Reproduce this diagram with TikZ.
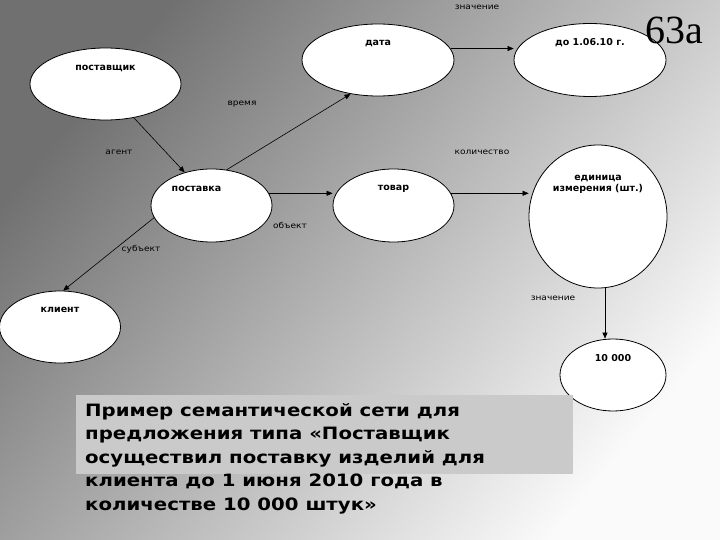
\documentclass[tikz,border=0pt]{standalone}
\usepackage{fontspec}
\setmainfont{DejaVu Sans}
\newfontfamily\pagefont{Liberation Serif}
\newfontfamily\widefont[FakeStretch=1.13]{DejaVu Sans}
\newfontfamily\capfont[FakeStretch=1.16]{DejaVu Sans Bold}
\usetikzlibrary{arrows.meta,shapes.geometric}
\definecolor{bgdark}{HTML}{707070}
\definecolor{bglight}{HTML}{FAFAFA}
\definecolor{capfill}{HTML}{CACACA}
\tikzset{
  concept/.style={ellipse, draw=black, fill=white, line width=0.8pt, inner sep=0pt},
  ctext/.style={font=\fontsize{9.5}{11.5}\selectfont\bfseries, align=center},
  ar/.style={-{Triangle[length=6pt,width=5pt]}, line width=0.6pt},
  lbl/.style={font=\widefont\fontsize{8}{9}\selectfont}
}

\begin{document}
\begin{tikzpicture}[x=1pt,y=-1pt]
  \useasboundingbox (0,0) rectangle (720,540);
  \shade[left color=bgdark, right color=bglight, shading angle=50] (0,0) rectangle (720,540);

  % concepts
  \node[concept, minimum width=151pt, minimum height=72pt,
        label={[ctext,yshift=16pt]center:поставщик}] (supplier) at (105.5,84) {};
  \node[concept, minimum width=152pt, minimum height=72pt,
        label={[ctext,yshift=17pt]center:дата}] (date) at (378,60) {};
  \node[concept, minimum width=152pt, minimum height=73pt,
        label={[ctext,yshift=17pt]center:до 1.06.10 г.}] (due) at (590,60) {};
  \node[concept, minimum width=121pt, minimum height=73pt,
        label={[ctext,yshift=17pt,xshift=-15pt]center:поставка}] (delivery) at (211.5,205.5) {};
  \node[concept, minimum width=121pt, minimum height=73pt,
        label={[ctext,yshift=17pt]center:товар}] (goods) at (393.5,205.5) {};
  \node[concept, minimum width=138pt, minimum height=143pt,
        label={[ctext,yshift=32pt]center:единица\\измерения (шт.)}] (unit) at (598,216.5) {};
  \node[concept, minimum width=121pt, minimum height=72pt,
        label={[ctext,yshift=17pt]center:клиент}] (client) at (60,327) {};
  \node[concept, minimum width=106pt, minimum height=72pt,
        label={[ctext,yshift=17pt]center:10 000}] (amount) at (613,375) {};

  % relations
  \draw[ar] (supplier.-50) -- (delivery.129);
  \draw[ar] (delivery.67) -- (date.231);
  \draw[ar] (delivery.12) -- (delivery.12 -| goods.west);
  \draw[ar] (delivery.192) -- (client.85);
  \draw[ar] (date.9) -- (date.9 -| due.west);
  \draw[ar] (goods.12) -- (goods.12 -| unit.west);
  \draw[ar] ([xshift=7pt]unit.south) -- ([xshift=7pt]unit.south |- amount.north);

  \node[lbl] (l-value1) at (477,7) {значение};
  \node[lbl] (l-time) at (242,104) {время};
  \node[lbl] (l-agent) at (119,152) {агент};
  \node[lbl] (l-qty) at (482,152) {количество};
  \node[lbl] (l-object) at (290,225) {объект};
  \node[lbl] (l-subject) at (141,249) {субъект};
  \node[lbl] (l-value2) at (553,298) {значение};

  \node[font=\pagefont\fontsize{40}{40}\selectfont] (slide) at (674,30) {63а};

  % caption
  \node[fill=capfill, minimum width=497pt, minimum height=79pt, inner sep=0pt] (capbox) at (324.5,434.5) {};
  \node[anchor=north west, align=left, inner sep=0pt,
        font=\capfont\fontsize{17}{23.5}\selectfont] (caption) at (85,403)
     {Пример семантической сети для\\предложения типа «Поставщик\\осуществил поставку изделий для\\клиента до 1 июня 2010 года в\\количестве 10 000 штук»};
\end{tikzpicture}
\end{document}
